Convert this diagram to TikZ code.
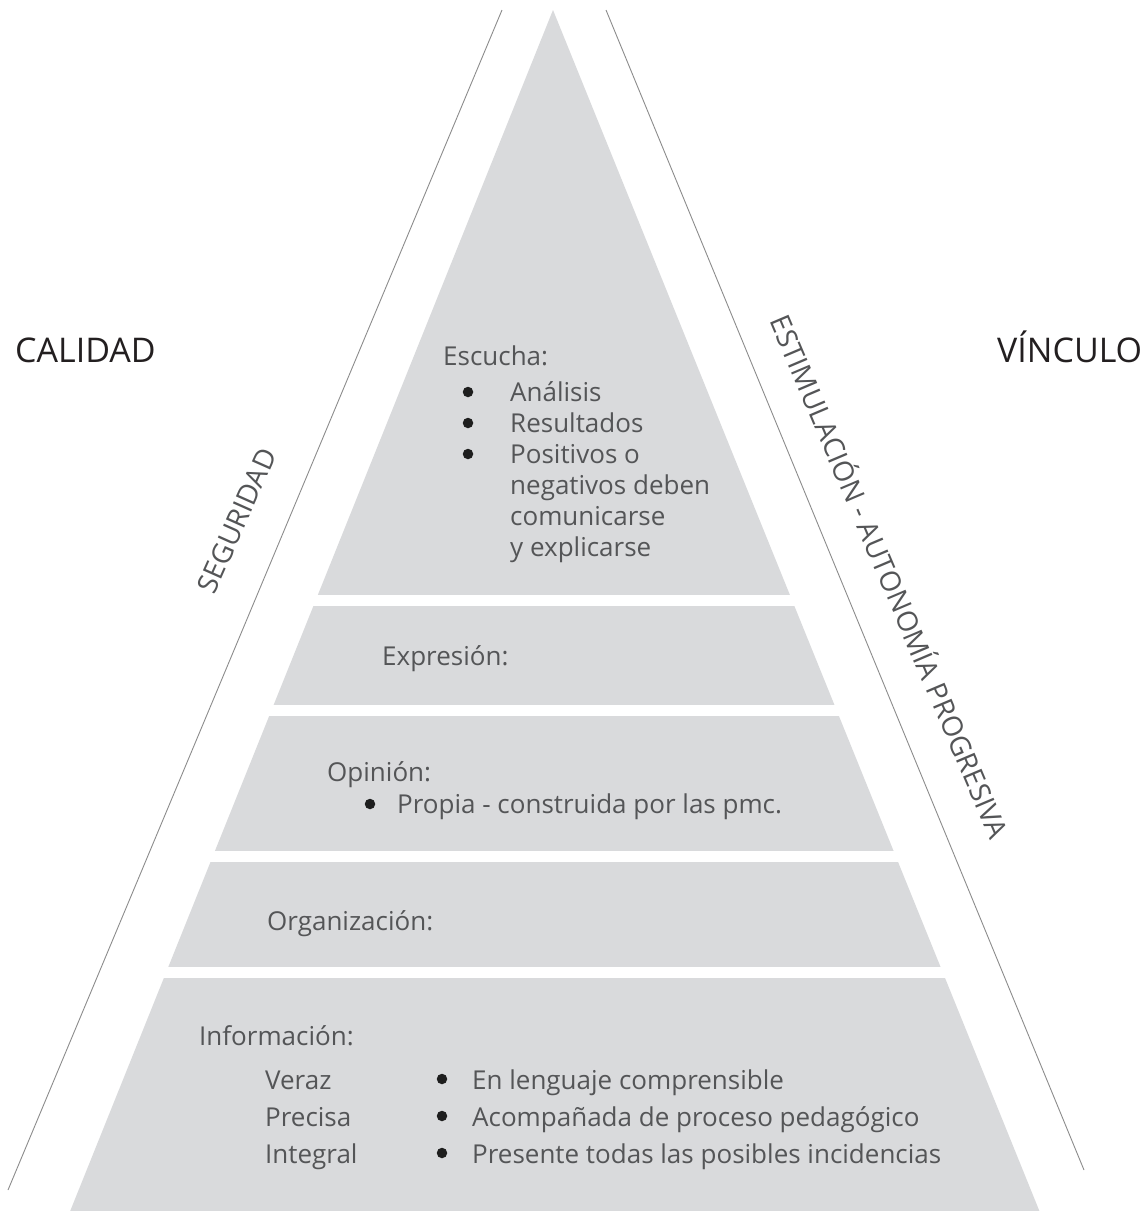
\documentclass[tikz,border=0pt]{standalone}
\usepackage{fontspec}
\setmainfont{Open Sans}
\definecolor{pyr}{HTML}{D9DADC}
\definecolor{txt}{HTML}{545557}
\definecolor{lbl}{HTML}{231F20}
\definecolor{edgegray}{HTML}{8C8C8C}
\definecolor{dotcol}{HTML}{1E1E1E}
\tikzset{
  layertext/.style={anchor=base west, inner sep=0pt, text=txt, font=\fontsize{26pt}{30pt}\selectfont},
  bigtext/.style={anchor=base west, inner sep=0pt, text=lbl, font=\fontsize{34pt}{38pt}\selectfont},
  sidetext/.style={anchor=base, inner sep=0pt, text=txt, font=\fontsize{28pt}{32pt}\selectfont},
  guide/.style={draw=edgegray, line width=0.9pt},
  dotmark/.style={circle, fill=dotcol, inner sep=0pt, minimum size=10.5pt},
  gap/.style={fill=white},
}
\begin{document}
\begin{tikzpicture}[x=1pt,y=-1pt]
\useasboundingbox[fill=white] (0,0) rectangle (1147,1211);
% pyramid body
\fill[pyr] (553,10) -- (70.2,1211) -- (1039.4,1211) -- cycle;
% white gaps between layers
\fill[gap] (0,595) rectangle (1147,606);
\fill[gap] (0,705) rectangle (1147,716);
\fill[gap] (0,851) rectangle (1147,862);
\fill[gap] (0,967) rectangle (1147,978);
% outer guide lines
\coordinate (lt) at (502,10);
\coordinate (lb) at (8,1190);
\coordinate (rt) at (606,10);
\coordinate (rb) at (1084,1170);
\draw[guide] (lt) -- (lb);
\draw[guide] (rt) -- (rb);
% side labels
\node[bigtext] (cal) at (15,362) {CALIDAD};
\node[bigtext] (vin) at (997,362) {VÍNCULO};
\node[sidetext, rotate=66] (seg) at (246,525) {SEGURIDAD};
\node[sidetext, rotate=-67] (est) at (880,581) {ESTIMULACIÓN - AUTONOMÍA PROGRESIVA};
% layer 1
\node[layertext] (esc) at (443,365) {Escucha:};
\node[dotmark] (d1) at (468,392) {};
\node[dotmark] (d2) at (468,423) {};
\node[dotmark] (d3) at (468,454) {};
\node[layertext] (e1) at (510,401) {Análisis};
\node[layertext] (e2) at (510,432) {Resultados};
\node[layertext] (e3) at (510,463) {Positivos o};
\node[layertext] (e4) at (510,494) {negativos deben};
\node[layertext] (e5) at (510,525) {comunicarse};
\node[layertext] (e6) at (510,556) {y explicarse};
% layer 2
\node[layertext] (exp) at (382,665) {Expresión:};
% layer 3
\node[layertext] (opi) at (327,781) {Opinión:};
\node[dotmark] (d4) at (370,804) {};
\node[layertext] (o1) at (397,813) {Propia - construida por las pmc.};
% layer 4
\node[layertext] (org) at (267,930) {Organización:};
% layer 5
\node[layertext] (inf) at (199,1045) {Información:};
\node[layertext] (v1) at (265,1089) {Veraz};
\node[layertext] (v2) at (265,1126) {Precisa};
\node[layertext] (v3) at (265,1163) {Integral};
\node[dotmark] (d5) at (442,1079) {};
\node[dotmark] (d6) at (442,1116) {};
\node[dotmark] (d7) at (442,1153) {};
\node[layertext] (i1) at (472,1089) {En lenguaje comprensible};
\node[layertext] (i2) at (472,1126) {Acompañada de proceso pedagógico};
\node[layertext] (i3) at (472,1163) {Presente todas las posibles incidencias};
\end{tikzpicture}
\end{document}
